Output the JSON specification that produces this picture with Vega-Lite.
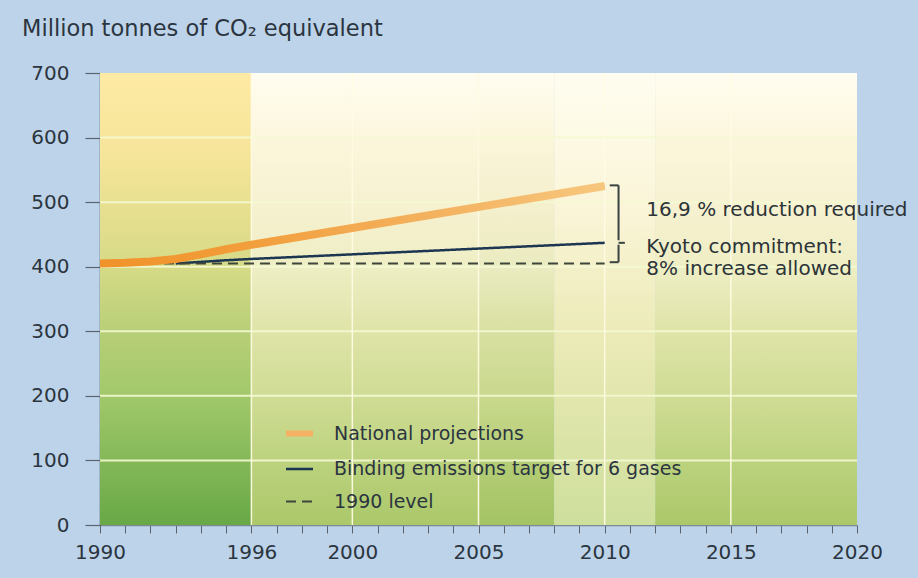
{
  "$schema": "https://vega.github.io/schema/vega-lite/v6.json",
  "width": 757,
  "height": 452,
  "autosize": {"type": "none"},
  "padding": {"left": 100, "top": 73, "right": 61, "bottom": 53},
  "background": "#bdd3e9",
  "config": {
    "view": {"stroke": null},
    "font": "DejaVu Sans",
    "axisX": {
      "tickCount": 30,
      "tickMinStep": 1,
      "labelExpr": "indexof([1990,1996,2000,2005,2010,2015,2020], datum.value) >= 0 ? '' + datum.value : ''",
      "grid": false,
      "domainColor": "#7d8a96",
      "domainWidth": 1.5,
      "tickColor": "#5a6470",
      "tickSize": 8,
      "tickWidth": 1,
      "labelFont": "DejaVu Sans",
      "labelFontSize": 20,
      "labelColor": "#2b3540",
      "labelPadding": 9,
      "labelFlush": false,
      "labelOverlap": false
    },
    "axisY": {
      "tickCount": 7,
      "grid": false,
      "domainColor": "#4e5a64",
      "domainWidth": 1.5,
      "tickColor": "#5a6470",
      "tickSize": 15,
      "tickWidth": 1.2,
      "labelFont": "DejaVu Sans",
      "labelFontSize": 20,
      "labelColor": "#2b3540",
      "labelPadding": 16
    }
  },
  "title": {
    "text": "Million tonnes of CO₂ equivalent",
    "anchor": "start",
    "frame": "group",
    "dx": -78,
    "offset": 23,
    "font": "DejaVu Sans",
    "fontSize": 22.5,
    "fontWeight": "normal",
    "color": "#2b3540"
  },
  "datasets": {
    "bands": [
      {"start": 1990, "end": 1996, "kind": "a"},
      {"start": 1996, "end": 2005, "kind": "b"},
      {"start": 2005, "end": 2008, "kind": "b2"},
      {"start": 2008, "end": 2010, "kind": "c"},
      {"start": 2010, "end": 2012, "kind": "d"},
      {"start": 2012, "end": 2020, "kind": "b"}
    ],
    "hgrid": [{"v": 100}, {"v": 200}, {"v": 300}, {"v": 400}, {"v": 500}, {"v": 600}],
    "vgrid": [{"yr": 1996}, {"yr": 2000}, {"yr": 2005}, {"yr": 2010}, {"yr": 2015}],
    "series": [
      {"series": "National projections", "year": 1990, "value": 405},
      {"series": "National projections", "year": 1991, "value": 406},
      {"series": "National projections", "year": 1992, "value": 408},
      {"series": "National projections", "year": 1993, "value": 412},
      {"series": "National projections", "year": 1994, "value": 419},
      {"series": "National projections", "year": 1995, "value": 427},
      {"series": "National projections", "year": 1996, "value": 434},
      {"series": "National projections", "year": 2010, "value": 525},
      {"series": "Binding emissions target for 6 gases", "year": 1993, "value": 405},
      {"series": "Binding emissions target for 6 gases", "year": 1995, "value": 410},
      {"series": "Binding emissions target for 6 gases", "year": 1996, "value": 412},
      {"series": "Binding emissions target for 6 gases", "year": 2010, "value": 437},
      {"series": "1990 level", "year": 1990, "value": 405},
      {"series": "1990 level", "year": 2010, "value": 405}
    ],
    "brackets": [
      {"x": 2010.55, "x2": 2010.55, "y": 526, "y2": 441},
      {"x": 2010.2, "x2": 2010.55, "y": 526, "y2": 526},
      {"x": 2010.55, "x2": 2010.55, "y": 434, "y2": 407},
      {"x": 2010.2, "x2": 2010.55, "y": 407, "y2": 407},
      {"x": 2010.55, "x2": 2010.8, "y": 437, "y2": 437}
    ],
    "notes": [
      {"x": 2011.65, "y": 488, "label": "16,9 % reduction required"},
      {"x": 2011.65, "y": 431, "label": "Kyoto commitment:"},
      {"x": 2011.65, "y": 397, "label": "8% increase allowed"}
    ]
  },
  "layer": [
    {
      "data": {"name": "bands"},
      "transform": [{"filter": "datum.kind == 'a'"}],
      "mark": {"type": "rect", "fill": {"gradient": "linear", "x1": 0, "y1": 0, "x2": 0, "y2": 1, "stops": [
        {"offset": 0, "color": "#feeaa4"},
        {"offset": 0.2, "color": "#f4e498"},
        {"offset": 0.43, "color": "#d6da86"},
        {"offset": 0.57, "color": "#b8cf78"},
        {"offset": 0.72, "color": "#a0c86a"},
        {"offset": 0.86, "color": "#84b858"},
        {"offset": 1, "color": "#68a846"}]}},
      "encoding": {
        "x": {"field": "start", "type": "quantitative", "scale": {"domain": [1990, 2020], "nice": false, "zero": false}, "title": null},
        "x2": {"field": "end"},
        "y": {"datum": 700, "type": "quantitative", "scale": {"domain": [0, 700], "nice": false}, "title": null},
        "y2": {"datum": 0}
      }
    },
    {
      "data": {"name": "bands"},
      "transform": [{"filter": "datum.kind == 'b'"}],
      "mark": {"type": "rect", "fill": {"gradient": "linear", "x1": 0, "y1": 0, "x2": 0, "y2": 1, "stops": [
        {"offset": 0, "color": "#fffdf0"},
        {"offset": 0.15, "color": "#fcf6dc"},
        {"offset": 0.3, "color": "#f6f1d0"},
        {"offset": 0.43, "color": "#eeeec4"},
        {"offset": 0.57, "color": "#dfe4a8"},
        {"offset": 0.72, "color": "#cfdc94"},
        {"offset": 0.86, "color": "#bcd27e"},
        {"offset": 1, "color": "#abc86a"}]}},
      "encoding": {
        "x": {"field": "start", "type": "quantitative", "title": null},
        "x2": {"field": "end"},
        "y": {"datum": 700, "type": "quantitative", "title": null},
        "y2": {"datum": 0}
      }
    },
    {
      "data": {"name": "bands"},
      "transform": [{"filter": "datum.kind == 'b2'"}],
      "mark": {"type": "rect", "fill": {"gradient": "linear", "x1": 0, "y1": 0, "x2": 0, "y2": 1, "stops": [
        {"offset": 0, "color": "#fffdf0"},
        {"offset": 0.15, "color": "#fbf5da"},
        {"offset": 0.3, "color": "#f4efcc"},
        {"offset": 0.43, "color": "#eaebc0"},
        {"offset": 0.57, "color": "#d9e0a2"},
        {"offset": 0.72, "color": "#c8d88c"},
        {"offset": 0.86, "color": "#b4cd76"},
        {"offset": 1, "color": "#a4c464"}]}},
      "encoding": {
        "x": {"field": "start", "type": "quantitative", "title": null},
        "x2": {"field": "end"},
        "y": {"datum": 700, "type": "quantitative", "title": null},
        "y2": {"datum": 0}
      }
    },
    {
      "data": {"name": "bands"},
      "transform": [{"filter": "datum.kind == 'c' || datum.kind == 'd'"}],
      "mark": {"type": "rect", "fill": {"gradient": "linear", "x1": 0, "y1": 0, "x2": 0, "y2": 1, "stops": [
        {"offset": 0, "color": "#fffdf0"},
        {"offset": 0.3, "color": "#faf5d8"},
        {"offset": 0.57, "color": "#ecebb8"},
        {"offset": 0.8, "color": "#dce4a8"},
        {"offset": 1, "color": "#cedf9c"}]}},
      "encoding": {
        "x": {"field": "start", "type": "quantitative", "title": null},
        "x2": {"field": "end"},
        "y": {"datum": 700, "type": "quantitative", "title": null},
        "y2": {"datum": 0}
      }
    },
    {
      "data": {"name": "hgrid"},
      "mark": {"type": "rule", "color": "#f3f9d2", "strokeWidth": 2, "opacity": 0.9},
      "encoding": {"y": {"field": "v", "type": "quantitative", "title": null}}
    },
    {
      "data": {"name": "vgrid"},
      "mark": {"type": "rule", "color": "#fffbe4", "strokeWidth": 1.5, "opacity": 0.95},
      "encoding": {"x": {"field": "yr", "type": "quantitative", "title": null}}
    },
    {
      "data": {"name": "series"},
      "mark": {"type": "line", "strokeCap": "butt"},
      "encoding": {
        "x": {"field": "year", "type": "quantitative", "title": null},
        "y": {"field": "value", "type": "quantitative", "title": null},
        "color": {"field": "series", "type": "nominal",
          "scale": {"domain": ["National projections", "Binding emissions target for 6 gases", "1990 level"], "range": ["#f5b264", "#1c3550", "#3f463c"]},
          "legend": {
            "orient": "none", "legendX": 183, "legendY": 344, "title": null,
            "symbolType": "stroke", "symbolSize": 729,
            "labelFont": "DejaVu Sans", "labelFontSize": 19, "labelColor": "#2b3540", "labelLimit": 0,
            "rowPadding": 8, "labelOffset": 18
          }},
        "strokeDash": {"field": "series", "type": "nominal",
          "scale": {"domain": ["National projections", "Binding emissions target for 6 gases", "1990 level"], "range": [[1, 0], [1, 0], [10, 6]]}},
        "strokeWidth": {"field": "series", "type": "ordinal",
          "scale": {"type": "ordinal", "domain": ["National projections", "Binding emissions target for 6 gases", "1990 level"], "range": [6, 2.5, 2]}}
      }
    },
    {
      "data": {"name": "series"},
      "transform": [{"filter": "datum.series == 'National projections'"}],
      "mark": {"type": "line", "strokeWidth": 8, "strokeCap": "butt", "color": {"gradient": "linear", "x1": 0, "y1": 0, "x2": 1, "y2": 0, "stops": [
        {"offset": 0, "color": "#f0922a"},
        {"offset": 0.25, "color": "#f29c38"},
        {"offset": 0.7, "color": "#f4b462"},
        {"offset": 1, "color": "#f7c77e"}]}},
      "encoding": {
        "x": {"field": "year", "type": "quantitative", "title": null},
        "y": {"field": "value", "type": "quantitative", "title": null}
      }
    },
    {
      "data": {"name": "brackets"},
      "mark": {"type": "rule", "color": "#3a4242", "strokeWidth": 2},
      "encoding": {
        "x": {"field": "x", "type": "quantitative", "title": null},
        "x2": {"field": "x2"},
        "y": {"field": "y", "type": "quantitative", "title": null},
        "y2": {"field": "y2"}
      }
    },
    {
      "data": {"name": "notes"},
      "mark": {"type": "text", "align": "left", "baseline": "middle", "font": "DejaVu Sans", "fontSize": 20, "color": "#2c3438"},
      "encoding": {
        "x": {"field": "x", "type": "quantitative", "title": null},
        "y": {"field": "y", "type": "quantitative", "title": null},
        "text": {"field": "label"}
      }
    }
  ]
}
